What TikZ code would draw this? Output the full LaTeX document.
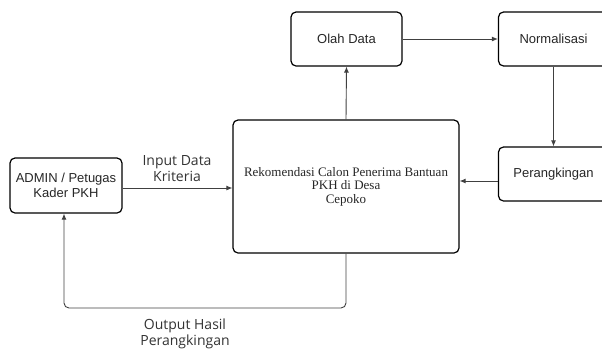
\documentclass[tikz,border=0pt]{standalone}
\usepackage{fontspec}
\setmainfont{Liberation Sans}
\newfontfamily\serifbox{Liberation Serif}
\newfontfamily\labelfont{Open Sans}
\usetikzlibrary{arrows.meta}

\tikzset{
    box/.style={draw=black, line width=1.2pt, rounded corners=5pt, align=center,
        font=\fontsize{13}{15}\selectfont, text=black!85},
    conn/.style={draw=black!75, line width=0.9pt, -{Latex[length=6pt,width=5pt]}},
    lbl/.style={align=center, font=\labelfont\fontsize{14}{16}\selectfont, text=black!80},
}

\begin{document}
\begin{tikzpicture}[x=1pt, y=-1pt]
    \useasboundingbox (0, 0) rectangle (602, 349);
    \clip (0, 0) rectangle (602, 349);

    \node [box, minimum width=112pt, minimum height=55pt] (admin) at (66, 185.5) {ADMIN / Petugas\\Kader PKH};
    \node [box, minimum width=226pt, minimum height=133pt,
        font=\serifbox\fontsize{13}{13.5}\selectfont] (rekom) at (346, 186.5)
        {Rekomendasi Calon Penerima Bantuan\\PKH di Desa\\Cepoko};
    \node [box, minimum width=111pt, minimum height=54pt] (olah) at (346.5, 39) {Olah Data};
    \node [box, minimum width=110pt, minimum height=54pt] (norm) at (553.5, 39) {Normalisasi};
    \node [box, minimum width=110pt, minimum height=54pt] (rank) at (553.5, 174) {Perangkingan};

    \coordinate (loop) at (0, 308);

    \draw [conn] ([yshift=-2.5pt]admin.east) -- ([yshift=-2.5pt]admin.east -| rekom.west);
    \draw [conn] (rekom.north) -- (olah.south);
    \draw [conn] (olah.east) -- (norm.west);
    \draw [conn] (norm.south) -- (rank.north);
    \draw [conn] ([yshift=-7pt]rank.west) -- ([yshift=-7pt]rank.west -| rekom.east);
    \draw [conn, rounded corners=5pt] (rekom.south) |- ([xshift=-2pt]admin.south |- loop) -- ([xshift=-2pt]admin.south);

    \node [lbl] (inputlbl) at (177, 169) {Input Data\\Kriteria};
    \node [lbl] (outputlbl) at (185, 334) {Output Hasil\\Perangkingan};
\end{tikzpicture}
\end{document}
